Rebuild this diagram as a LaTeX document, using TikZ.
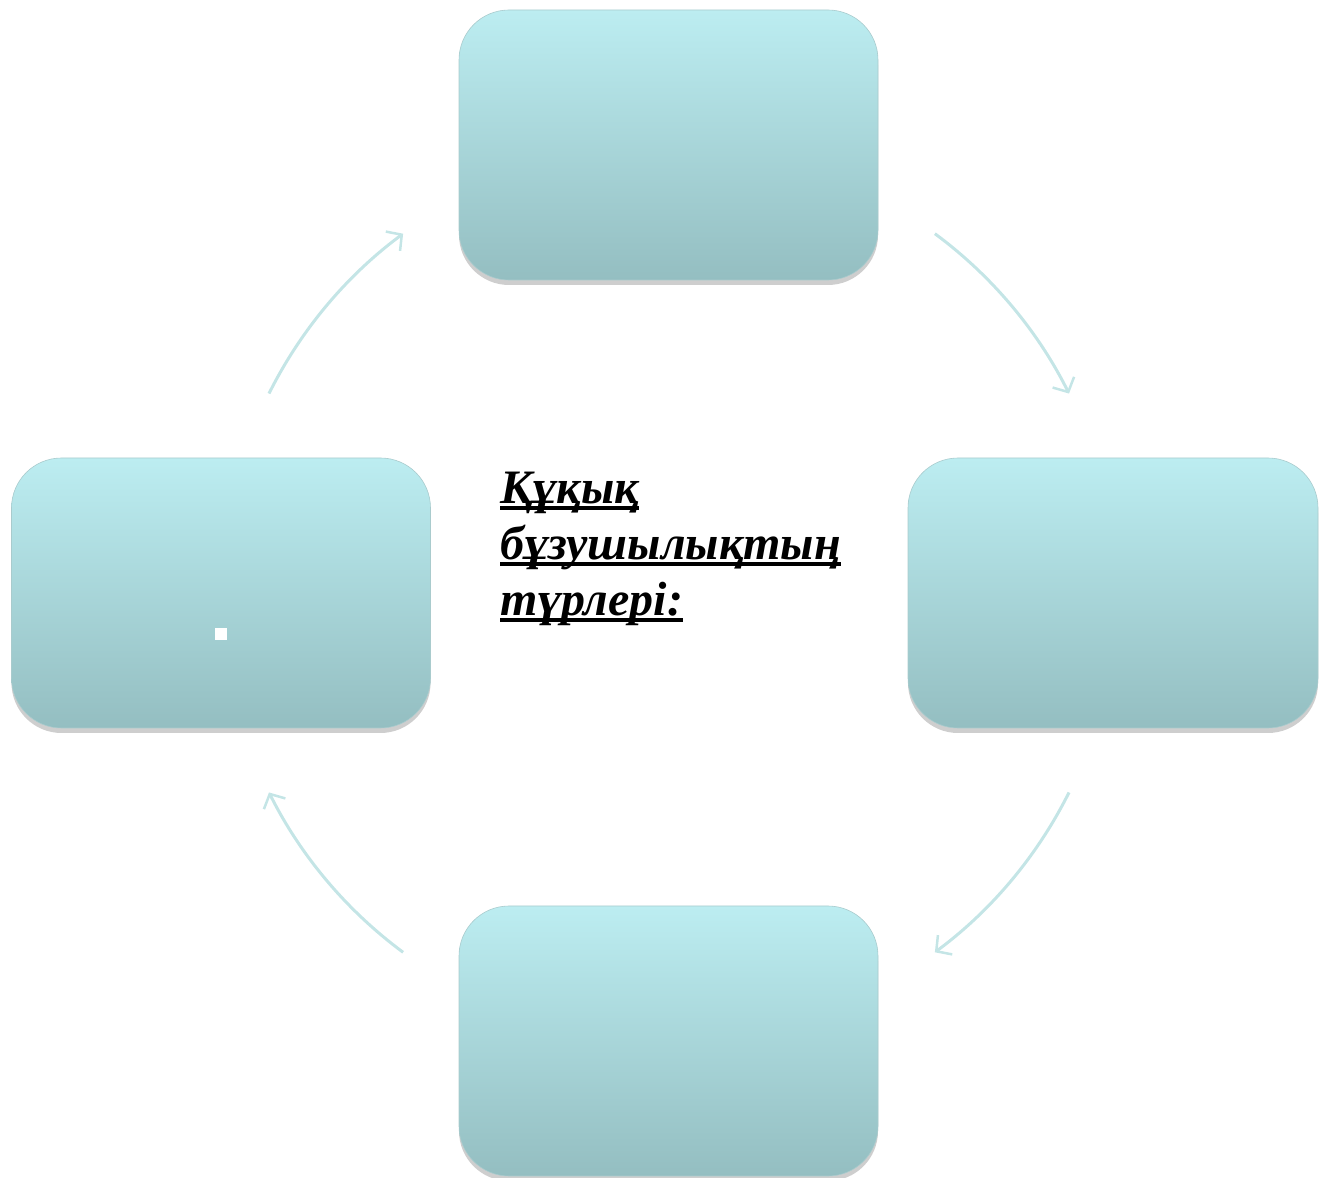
\documentclass[tikz,border=0pt]{standalone}
\usepackage{fontspec}
\setmainfont{Liberation Serif}
\usetikzlibrary{arrows.meta,shadows,calc}
\definecolor{boxtop}{RGB}{188,237,241}
\definecolor{boxbot}{RGB}{148,190,193}
\definecolor{cycarrow}{RGB}{196,229,230}
\newcommand{\thickul}[1]{\setbox0\hbox{#1}\rlap{\rule[-6pt]{\wd0}{3.6pt}}\box0}
\tikzset{
  stagebox/.style={rounded corners=50pt, minimum width=419pt, minimum height=270pt,
    top color=boxtop, bottom color=boxbot, draw=boxbot!80!white, line width=0.6pt,
    drop shadow={shadow xshift=0pt, shadow yshift=-5pt, opacity=0.35, fill=black!55}},
  cyc/.style={cycarrow, line width=3pt, -{Straight Barb[length=11pt,width=24pt,line width=2.5pt]}}
}
\begin{document}
\begin{tikzpicture}[x=1pt, y=1pt]
\useasboundingbox (0,0) rectangle (1320,1178);
% four stages
\node[stagebox] (top) at (668.5,1033) {};
\node[stagebox] (left) at (221,585) {};
\node[stagebox, minimum width=410pt] (right) at (1113,585) {};
\node[stagebox] (bottom) at (668.5,137) {};
\node[fill=white, minimum size=12pt, inner sep=0pt] (dot) at (221,544) {}; % small mark
% cycle arrows
\coordinate (c) at (669,585);
\draw[cyc] ($(c)+(53.5:447)$) arc[start angle=53.5, end angle=26.5, radius=447pt]; % top -> right
\draw[cyc] ($(c)+(-26.5:447)$) arc[start angle=-26.5, end angle=-53.5, radius=447pt]; % right -> bottom
\draw[cyc] ($(c)+(-126.5:447)$) arc[start angle=-126.5, end angle=-153.5, radius=447pt]; % bottom -> left
\draw[cyc] ($(c)+(153.5:447)$) arc[start angle=153.5, end angle=126.5, radius=447pt]; % left -> top
% title
\node[anchor=north west, align=left, inner sep=0pt, font=\fontsize{48}{56}\selectfont\bfseries\itshape] (title) at (500,706)
  {\thickul{Құқық}\\ \thickul{бұзушылықтың}\\ \thickul{түрлері:}};
\end{tikzpicture}
\end{document}
